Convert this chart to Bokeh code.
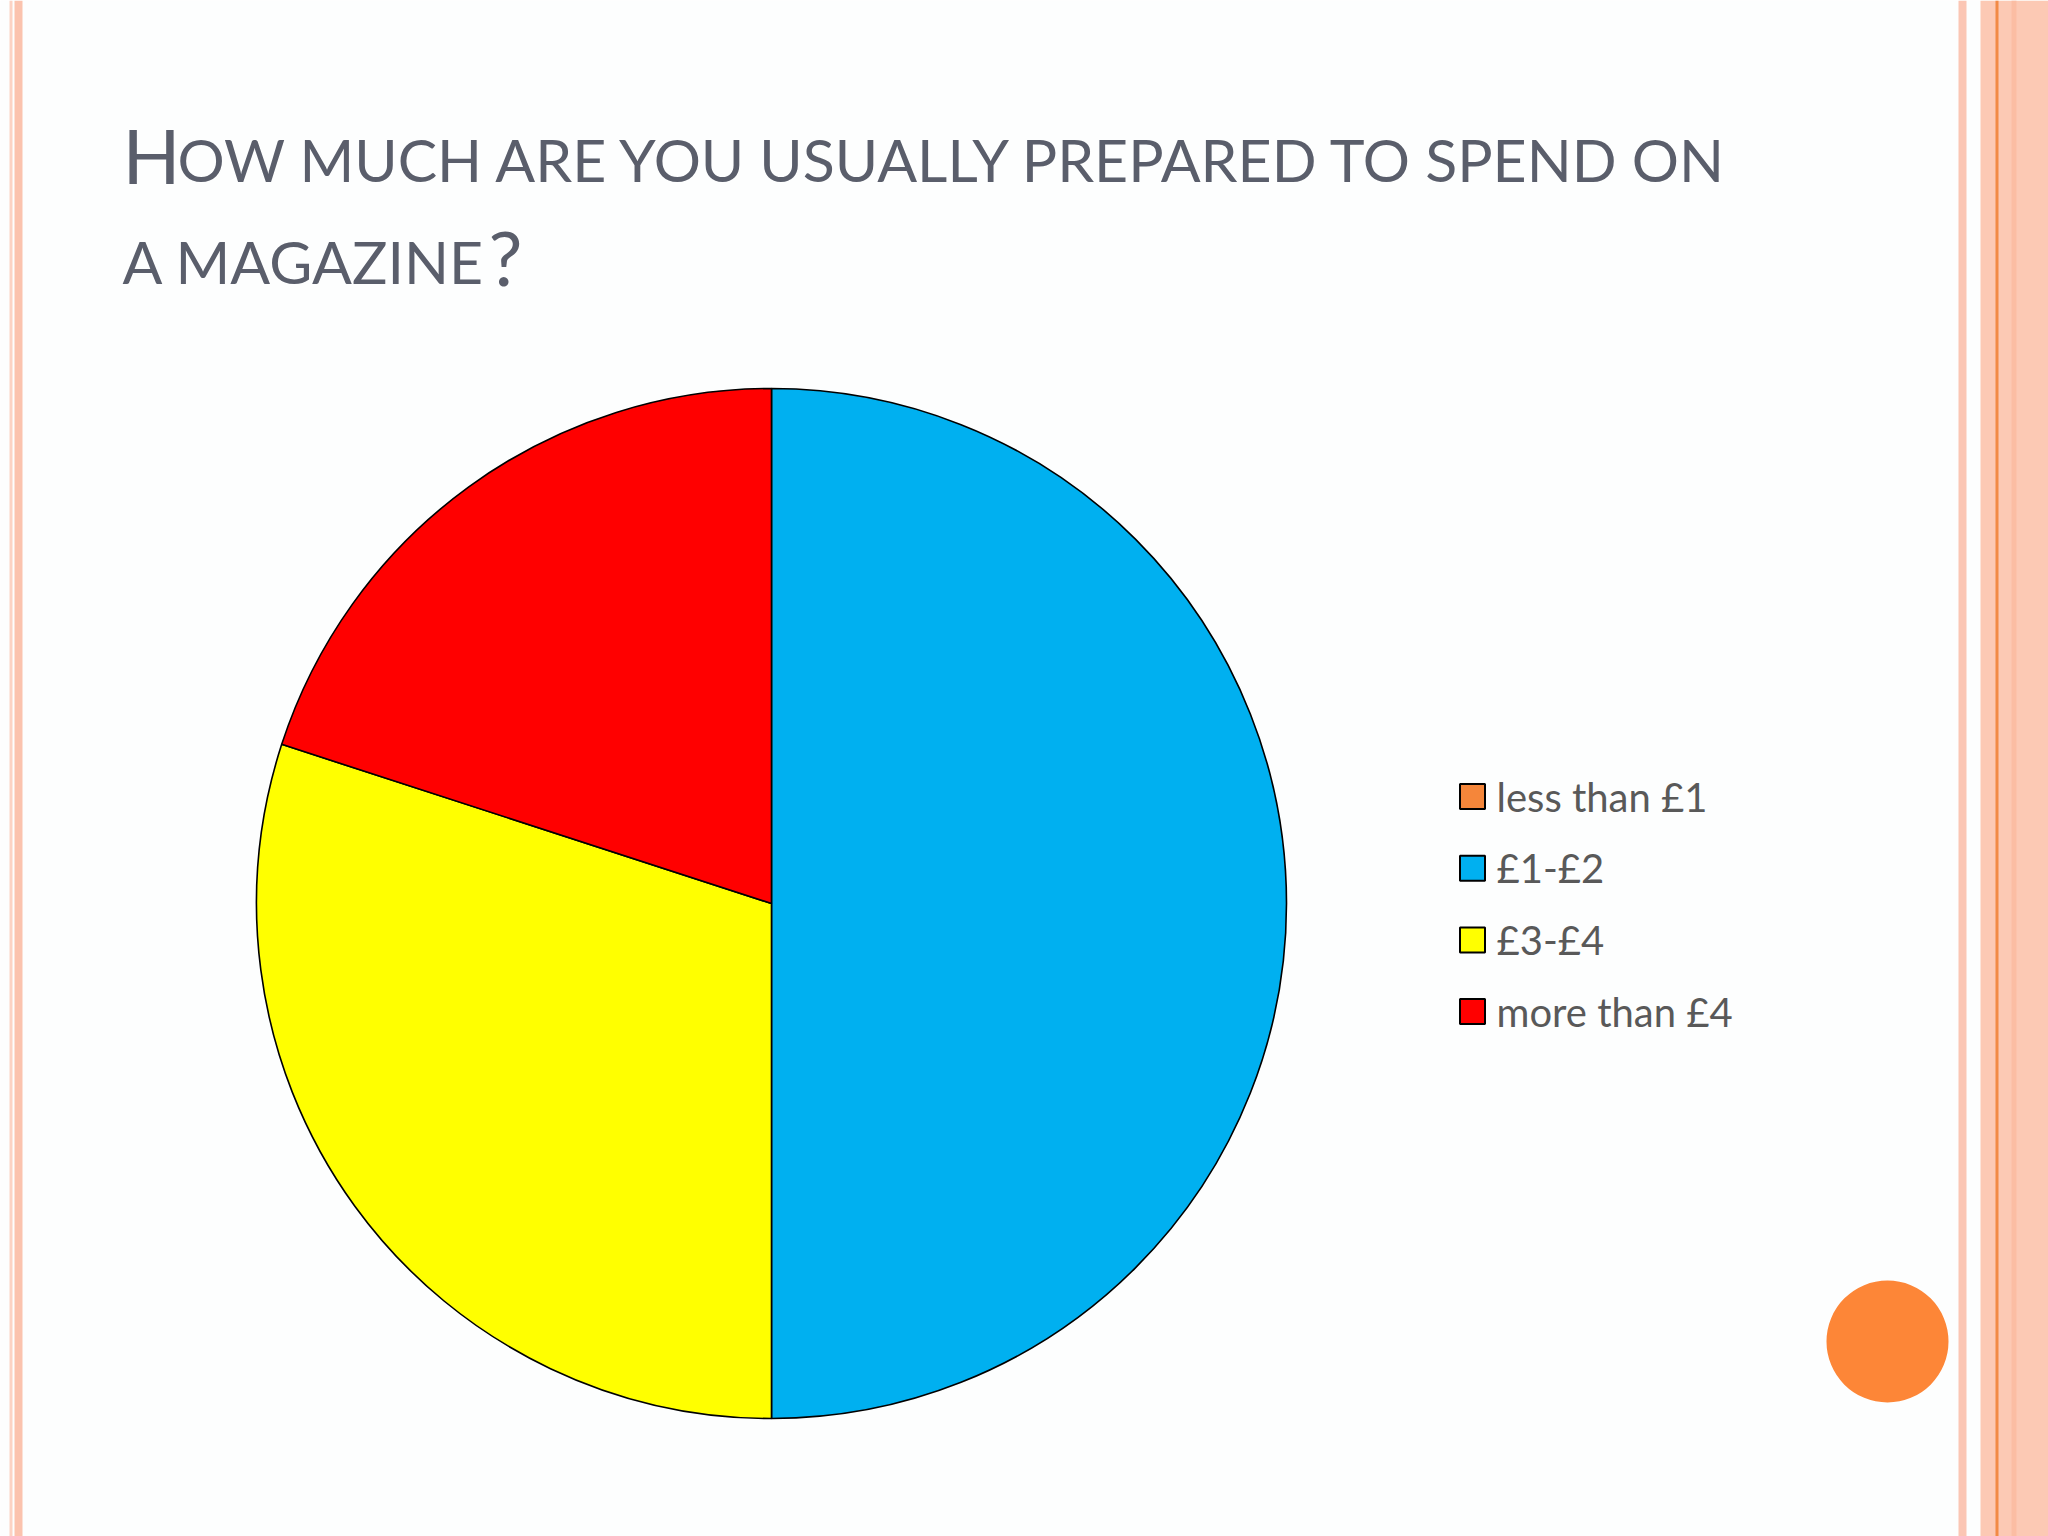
import math
from bokeh.plotting import figure
from bokeh.models import Range1d, ColumnDataSource
from bokeh.core.properties import value
from bokeh.embed import file_html
from bokeh.resources import INLINE

# ---- data ----
categories = ["less than £1", "£1-£2", "£3-£4", "more than £4"]
counts = [0, 5, 3, 2]
colors = ["#f5863a", "#00b0f0", "#ffff00", "#ff0000"]
title_line1 = ["H", "OW MUCH ARE YOU USUALLY PREPARED TO SPEND ON"]
title_line2 = ["A MAGAZINE", "?"]

W, H = 2048, 1536


def sy(y):  # screen y (reference px) -> data y
    return H - y


p = figure(width=W, height=H, x_range=Range1d(0, W), y_range=Range1d(0, H),
           output_backend="svg", toolbar_location=None, min_border=0)
p.axis.visible = False
p.grid.visible = False
p.outline_line_color = None
p.background_fill_color = "#fdfefe"
p.border_fill_color = "#fdfefe"

# decorative border stripes
stripes = dict(
    left=[9, 14, 1958, 1980, 1995, 2011],
    right=[12, 22, 1966, 2048, 1998, 2016],
    color=["#fcd3c4", "#fbc3ae", "#fbc6b4", "#fcc9b4", "#f28a45", "#fbbda3"],
)
p.quad(left=stripes["left"], right=stripes["right"], top=sy(0), bottom=sy(1536),
       fill_color=stripes["color"], line_color=None)

# ---- pie ----
cx, cy, r = 771, sy(903), 515
total = sum(counts)
starts, ends, cols = [], [], []
cum = 0
for c, col in zip(counts, colors):
    top = math.pi / 2 - 2 * math.pi * cum / total
    cum += c
    bot = math.pi / 2 - 2 * math.pi * cum / total
    if c > 0:
        starts.append(bot)
        ends.append(top)
        cols.append(col)
src = ColumnDataSource(dict(x=[cx] * len(cols), y=[cy] * len(cols), s=starts, e=ends, c=cols))
p.wedge(x="x", y="y", radius=r, start_angle="s", end_angle="e", fill_color="c",
        line_color="black", line_width=1.6, source=src)

# ---- legend ----
lx, ly0, dy = 1472, 796, 71.7
ly = [sy(ly0 + i * dy) for i in range(len(categories))]
p.rect(x=[lx] * len(categories), y=ly, width=25, height=25, width_units="screen", height_units="screen",
       fill_color=colors, line_color="black", line_width=2)
p.text(x=[1496] * len(categories), y=ly, text=categories, text_font=value("Lato"),
       text_font_size="40px", text_color="#595959", text_baseline="middle", text_align="left")

# ---- title (small caps) ----
tc = "#5a5e6b"
big, small = 76, 59
b1, b2 = 178, 280
p.text(x=[122], y=[sy(b1 - 0.32 * big)], text=[title_line1[0]], text_font=value("Lato"),
       text_font_size=f"{big}px", text_color=tc, text_baseline="middle")
p.text(x=[177], y=[sy(b1 - 0.32 * small)], text=[title_line1[1]], text_font=value("Lato"),
       text_font_size=f"{small}px", text_color=tc, text_baseline="middle")
p.text(x=[122], y=[sy(b2 - 0.32 * small)], text=[title_line2[0]], text_font=value("Lato"),
       text_font_size=f"{small}px", text_color=tc, text_baseline="middle")
p.text(x=[488], y=[sy(b2 - 0.32 * big)], text=[title_line2[1]], text_font=value("Lato"),
       text_font_size=f"{big}px", text_color=tc, text_baseline="middle")

# ---- orange decoration circle ----
p.circle(x=[1887], y=[sy(1341)], radius=61, fill_color="#fd8637", line_color=None)

open("out.html", "w").write(file_html(p, INLINE))
